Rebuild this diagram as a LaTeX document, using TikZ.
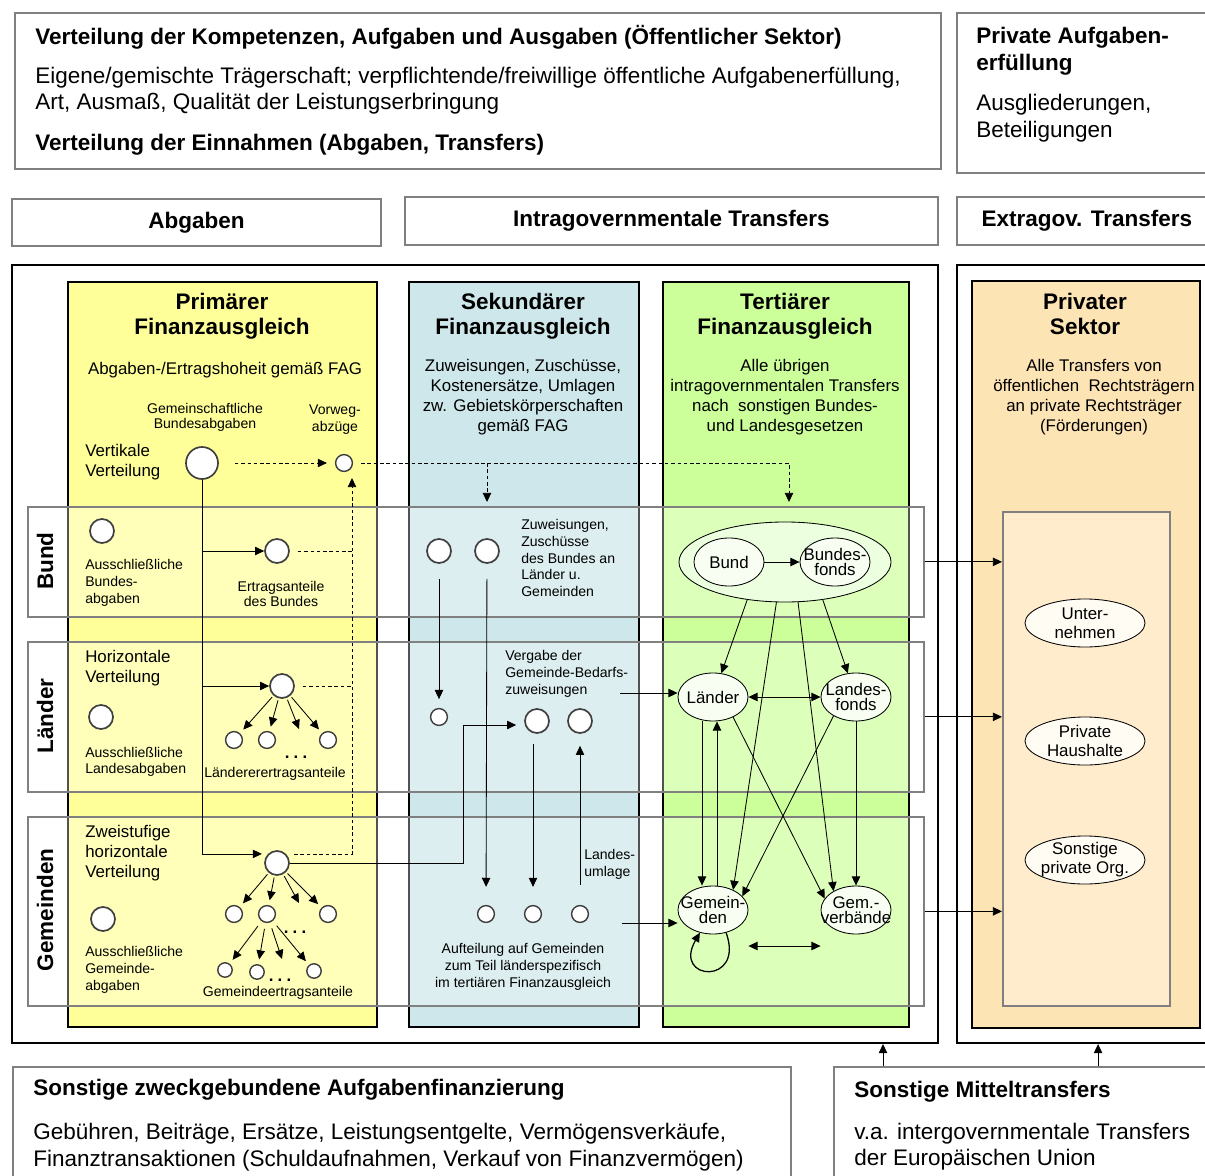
\documentclass[tikz,border=0pt]{standalone}
\usepackage{fontspec}
\setmainfont{Liberation Sans}
\usetikzlibrary{arrows.meta, shapes.geometric, positioning, calc}
\definecolor{primfill}{RGB}{255,255,153}
\definecolor{sekfill}{RGB}{206,231,234}
\definecolor{tertfill}{RGB}{204,255,153}
\definecolor{privfill}{RGB}{253,228,181}
\definecolor{privinnerfill}{RGB}{255,236,204}
\definecolor{framegray}{RGB}{128,128,128}
\definecolor{circgray}{RGB}{64,64,64}
\definecolor{groupfill}{RGB}{236,255,222}
\definecolor{ellfill}{RGB}{248,255,242}
\definecolor{privellfill}{RGB}{255,252,243}
\newcommand{\fbig}{\fontsize{16}{18.5}\selectfont}
\newcommand{\fhead}{\fontsize{16}{17.8}\selectfont\bfseries}
\newcommand{\fmed}{\fontsize{12}{14.2}\selectfont}
\newcommand{\fsmall}{\fontsize{10}{12}\selectfont}
\tikzset{
    outerframe/.style={
        draw=black,
        line width=1.3pt,
        fill=white,
        anchor=north west,
        inner sep=0pt
    },
    graybox/.style={
        draw=framegray,
        line width=1.2pt,
        fill=white,
        anchor=north west,
        inner sep=0pt
    },
    headbox/.style={
        graybox,
        font=\fhead
    },
    colbox/.style={
        draw=black,
        line width=1.2pt,
        anchor=north west,
        inner sep=0pt
    },
    band/.style={
        draw=framegray,
        line width=1.2pt,
        fill=white,
        fill opacity=0.32,
        anchor=north west,
        inner sep=0pt
    },
    bandlabel/.style={
        rotate=90,
        inner sep=0pt,
        font=\fontsize{16}{18}\selectfont\bfseries
    },
    boxtext/.style={
        inner sep=0pt,
        anchor=west,
        align=left,
        font=\fbig
    },
    coltitle/.style={
        inner sep=0pt,
        align=center,
        font=\fhead
    },
    coldesc/.style={
        inner sep=0pt,
        align=center,
        font=\fmed
    },
    medtext/.style={
        inner sep=0pt,
        anchor=west,
        align=left,
        font=\fmed
    },
    smalltext/.style={
        inner sep=0pt,
        align=left,
        font=\fsmall
    },
    dotstext/.style={
        inner sep=0pt,
        font=\fontsize{12}{12}\selectfont\bfseries
    },
    circbig/.style={circle, draw=circgray, line width=1.2pt, fill=white, minimum size=0.8cm, inner sep=0pt},
    circmid/.style={circle, draw=circgray, line width=1.2pt, fill=white, minimum size=0.6cm, inner sep=0pt},
    circsmall/.style={circle, draw=circgray, line width=1pt, fill=white, minimum size=0.42cm, inner sep=0pt},
    circtiny/.style={circle, draw=circgray, line width=1pt, fill=white, minimum size=0.36cm, inner sep=0pt},
    elltxt/.style={
        inner sep=0pt,
        align=center,
        font=\fontsize{12}{10.7}\selectfont
    },
    ellnode/.style={
        ellipse,
        draw=black,
        line width=0.6pt,
        fill=ellfill,
        minimum width=1.75cm,
        minimum height=1.2cm,
        inner sep=0pt,
        label={[elltxt]center:#1}
    },
    privell/.style={
        ellipse,
        draw=black,
        line width=0.6pt,
        fill=privellfill,
        minimum width=3cm,
        minimum height=1.2cm,
        inner sep=0pt,
        label={[elltxt, font=\fontsize{12}{13.5}\selectfont]center:#1}
    },
    arr/.style={
        draw=black,
        line width=0.6pt,
        -{Triangle[length=6.5pt,width=6pt]}
    },
    darr/.style={
        draw=black,
        line width=0.6pt,
        {Triangle[length=6.5pt,width=6pt]}-{Triangle[length=6.5pt,width=6pt]}
    },
    dashline/.style={
        draw=black,
        line width=0.6pt,
        dash pattern=on 2.5pt off 2pt
    },
    dasharr/.style={
        dashline,
        -{Triangle[length=6.5pt,width=6pt]}
    }
}
\begin{document}
\begin{tikzpicture}[x=0.025cm, y=-0.025cm]
\useasboundingbox (0,0) rectangle (1205,1176);

% Top boxes
\node[graybox, minimum width=23.15cm, minimum height=3.9cm] (pubtask) at (14,12) {};
\node[boxtext, font=\fbig\bfseries] (pubtitle) at (35,37) {Verteilung der Kompetenzen, Aufgaben und Ausgaben (Öffentlicher Sektor)};
\node[boxtext] (pubdesc) at (35,91) {Eigene/gemischte Trägerschaft; verpflichtende/freiwillige öffentliche Aufgabenerfüllung,\\Art, Ausmaß, Qualität der Leistungserbringung};
\node[boxtext, font=\fbig\bfseries] (pubincome) at (35,145) {Verteilung der Einnahmen (Abgaben, Transfers)};
\node[graybox, minimum width=6.5cm, minimum height=4cm] (privtask) at (956,12) {};
\node[boxtext, font=\fontsize{16}{19.2}\selectfont\bfseries] (privtitle) at (976,51) {Private Aufgaben-\\erfüllung};
\node[boxtext, font=\fontsize{16}{19.2}\selectfont] (privdesc) at (976,118) {Ausgliederungen,\\Beteiligungen};

% Header row
\node[headbox, minimum width=9.225cm, minimum height=1.175cm] (hdabg) at (11,198) {Abgaben};
\node[headbox, minimum width=13.325cm, minimum height=1.2cm] (hdintra) at (404,196) {Intragovernmentale Transfers};
\node[headbox, minimum width=6.5cm, minimum height=1.2cm] (hdextra) at (956,196) {Extragov. Transfers};

% Frames and columns
\node[outerframe, minimum width=23.15cm, minimum height=19.45cm] (pubframe) at (11,264) {};
\node[outerframe, minimum width=6.5cm, minimum height=19.45cm] (privframe) at (956,264) {};
\node[colbox, fill=primfill, minimum width=7.725cm, minimum height=18.625cm] (colprim) at (67,281) {};
\node[colbox, fill=sekfill, minimum width=5.75cm, minimum height=18.625cm] (colsek) at (408,281) {};
\node[colbox, fill=tertfill, minimum width=6.15cm, minimum height=18.625cm] (colter) at (662,281) {};
\node[colbox, fill=privfill, minimum width=5.7cm, minimum height=18.675cm] (colpriv) at (971,280) {};
\node[graybox, fill=privinnerfill, minimum width=4.175cm, minimum height=12.35cm] (privinner) at (1002,511) {};

% Level bands
\node[band, minimum width=22.4cm, minimum height=2.75cm] (bandbund) at (27,506) {};
\node[band, minimum width=22.4cm, minimum height=3.75cm] (bandland) at (27,641) {};
\node[band, minimum width=22.4cm, minimum height=4.725cm] (bandgem) at (27,816) {};
\node[bandlabel] (lblbund) at (45,561) {Bund};
\node[bandlabel] (lblland) at (45,716) {Länder};
\node[bandlabel] (lblgem) at (45,910) {Gemeinden};

% Column titles
\node[coltitle] (tprim) at (222,316) {Primärer\\Finanzausgleich};
\node[coltitle] (tsek) at (523,316) {Sekundärer\\Finanzausgleich};
\node[coltitle] (tter) at (785,316) {Tertiärer\\Finanzausgleich};
\node[coltitle] (tpriv) at (1085,314) {Privater\\Sektor};
\node[coldesc] (dprim) at (225,370) {Abgaben-/Ertragshoheit gemäß FAG};
\node[coldesc] (dsek) at (523,397) {Zuweisungen, Zuschüsse,\\Kostenersätze, Umlagen\\zw. Gebietskörperschaften\\gemäß FAG};
\node[coldesc] (dter) at (785,397) {Alle übrigen\\intragovernmentalen Transfers\\nach\ \ sonstigen Bundes-\\und Landesgesetzen};
\node[coldesc] (dpriv) at (1094,397) {Alle Transfers von\\öffentlichen\ \ Rechtsträgern\\an private Rechtsträger\\(Förderungen)};

% Primary: vertical distribution
\node[smalltext, align=center, font=\fontsize{10}{10.7}\selectfont] (lgba) at (205,417) {Gemeinschaftliche\\Bundesabgaben};
\node[smalltext, align=center] (lvwa) at (335,420) {Vorweg-\\abzüge};
\node[medtext] (lvert) at (85,462) {Vertikale\\Verteilung};
\node[circbig] (gba) at (202,463) {};
\node[circsmall] (vwa) at (344,463) {};
\coordinate (vwain) at (352,478);
\coordinate (sdrop) at (487,502);
\coordinate (tdrop) at (789,502);

% Primary: Bund
\node[circmid] (exbund) at (102,531) {};
\node[smalltext, anchor=west] (lexbund) at (85,583) {Ausschließliche\\Bundes-\\abgaben};
\node[circmid] (ertbund) at (277,551) {};
\node[smalltext, align=center, font=\fontsize{10}{8.8}\selectfont] (lertbund) at (281,594) {Ertragsanteile\\des Bundes};

% Primary: Laender
\node[medtext] (lhor) at (85,668) {Horizontale\\Verteilung};
\node[circmid] (exland) at (101,717) {};
\node[smalltext, anchor=west, font=\fontsize{10}{11.5}\selectfont] (lexland) at (85,762) {Ausschließliche\\Landesabgaben};
\node[circmid] (ertland) at (282,686) {};
\node[circsmall] (land1) at (234,740) {};
\node[circsmall] (land2) at (267,740) {};
\node[circsmall] (land3) at (328,740) {};
\node[dotstext] (landdots) at (296,757) {.\hspace{3pt}.\hspace{3pt}.};
\coordinate (landgap) at (299,729);
\node[smalltext, align=center] (lertland) at (275,774) {Ländererertragsanteile};

% Primary: Gemeinden
\node[medtext] (lzwei) at (85,853) {Zweistufige\\horizontale\\Verteilung};
\node[circmid] (exgem) at (103,919) {};
\node[smalltext, anchor=west] (lexgem) at (85,970) {Ausschließliche\\Gemeinde-\\abgaben};
\node[circmid] (ertgem) at (277,863) {};
\node[circsmall] (gem1) at (234,914) {};
\node[circsmall] (gem2) at (267,914) {};
\node[circsmall] (gem3) at (328,914) {};
\node[dotstext] (gemdots) at (295,932) {.\hspace{3pt}.\hspace{3pt}.};
\coordinate (gemgap) at (299,903);
\node[circtiny] (gem21) at (225,970) {};
\node[circtiny] (gem22) at (257,972) {};
\node[circtiny] (gem23) at (314,971) {};
\node[dotstext] (gem2dots) at (280,980) {.\hspace{3pt}.\hspace{3pt}.};
\coordinate (gem2gap) at (282,959);
\node[smalltext, align=center] (lertgem) at (278,993) {Gemeindeertragsanteile};

% Primary connections
\draw[dasharr, shorten <=0.4cm, shorten >=0.2cm] (gba) -- (vwa);
\draw[dasharr, shorten <=0.2cm] (vwa.east) -| (tdrop);
\draw[dasharr] (vwa.east -| sdrop) -- (sdrop);
\draw[dashline, shorten <=0.2cm] (ertbund.east) -- (ertbund.east -| vwain);
\draw[dashline, shorten <=0.2cm] (ertland.east) -- (ertland.east -| vwain);
\draw[dasharr, shorten <=0.2cm] (ertgem.north east) -| (vwain);
\draw[arr] (gba.south) |- (ertbund.west);
\draw[arr] (gba.south) |- (ertland.west);
\draw[arr, shorten >=0.15cm] (gba.south) |- (ertgem.north west);
\foreach \kid in {land1, land2, land3} {
    \draw[arr, shorten <=0.05cm, shorten >=0.12cm] (ertland) -- (\kid);
}
\draw[arr, shorten <=0.05cm] (ertland) -- (landgap);
\foreach \kid in {gem1, gem2, gem3} {
    \draw[arr, shorten <=0.05cm, shorten >=0.12cm] (ertgem) -- (\kid);
}
\draw[arr, shorten <=0.05cm] (ertgem) -- (gemgap);
\foreach \kid in {gem21, gem22, gem23} {
    \draw[arr, shorten <=0.15cm, shorten >=0.12cm] (gem2) -- (\kid);
}
\draw[arr, shorten <=0.15cm] (gem2) -- (gem2gap);

% Secondary
\node[circmid] (sek1) at (439,551) {};
\node[circmid] (sek2) at (487,551) {};
\node[smalltext, anchor=west, font=\fontsize{10}{11.9}\selectfont] (lzuw) at (521,558) {Zuweisungen,\\Zuschüsse\\des Bundes an\\Länder u.\\Gemeinden};
\node[circsmall] (sek3) at (439,717) {};
\node[smalltext, anchor=west] (lverg) at (505,674) {Vergabe der\\Gemeinde-Bedarfs-\\zuweisungen};
\coordinate (vgstart) at (620,693);
\node[circmid] (sek4) at (537,721) {};
\node[circmid] (sek5) at (580,721) {};
\node[circsmall] (sek7) at (486,914) {};
\node[circsmall] (sek8) at (533,914) {};
\node[circsmall] (sek9) at (580,914) {};
\node[smalltext, anchor=west] (lumlage) at (584,864) {Landes-\\umlage};
\coordinate (afstart) at (622,923);
\coordinate (bend) at (463,725);
\node[smalltext, align=center] (lauft) at (523,967) {Aufteilung auf Gemeinden\\zum Teil länderspezifisch\\im tertiären Finanzausgleich};
\draw[arr, shorten <=0.375cm, shorten >=0.22cm] (sek1) -- (sek3);
\draw[arr, shorten <=0.375cm, shorten >=0.45cm] (sek2) -- (sek7);
\draw[arr, shorten <=0.25cm, shorten >=0.45cm] (sek4.south -| sek8) -- (sek8);
\draw[arr, shorten <=0.5cm, shorten >=0.3cm] (sek9) -- (sek5);
\draw[arr, shorten >=0.2cm] (ertgem.east) -| (bend) -- (bend -| sek4.west);

% Tertiary
\node[ellnode=, fill=groupfill, minimum width=5.3cm, minimum height=2cm] (bundgrp) at (785,562) {};
\node[ellnode=Bund] (tbund) at (729,562) {};
\node[ellnode={Bundes-\\fonds}] (tbfonds) at (835,562) {};
\node[ellnode=Länder] (laender) at (713,697) {};
\node[ellnode={Landes-\\fonds}] (lfonds) at (856,697) {};
\node[ellnode={Gemein-\\den}] (gemeinden) at (713,910) {};
\node[ellnode={Gem.-\\verbände}] (gemverb) at (856,910) {};
\draw[arr] (tbund) -- (tbfonds);
\draw[arr] (bundgrp.225.8) -- (laender);
\draw[arr] (bundgrp.258.4) -- (gemeinden.45);
\draw[arr] (bundgrp.288.4) -- (gemverb.140);
\draw[arr] (bundgrp.315) -- (lfonds);
\draw[darr] (laender) -- (lfonds);
\draw[arr] ([xshift=-0.275cm]laender.south) -- ([xshift=-0.275cm]gemeinden.north);
\draw[arr] ([xshift=0.1cm]gemeinden.north) -- ([xshift=0.1cm]laender.south);
\draw[arr] (laender.-45) -- (gemverb.160);
\draw[arr] (lfonds.220) -- (gemeinden.25);
\draw[arr] (lfonds.south) -- (gemverb.north);
\draw[arr, line width=0.9pt] (gemeinden.-60) to[out=-70, in=-120, looseness=5.5] (gemeinden.-120);
\draw[darr] ([yshift=-0.9cm]gemeinden.east) -- ([yshift=-0.9cm]gemverb.west);
\draw[arr] (vgstart) -- (vgstart -| laender.west);
\draw[arr] (afstart) -- (afstart -| gemeinden.west);

% Private sector
\node[privell={Unter-\\nehmen}] (priv1) at (1085,623) {};
\node[privell={Private\\Haushalte}] (priv2) at (1085,741) {};
\node[privell={Sonstige\\private Org.}] (priv3) at (1085,860) {};
\draw[arr] (bandbund.east) -- (bandbund.east -| privinner.west);
\draw[arr] (bandland.east) -- (bandland.east -| privinner.west);
\draw[arr] (bandgem.east) -- (bandgem.east -| privinner.west);

% Bottom boxes
\node[graybox, minimum width=19.45cm, minimum height=3.25cm] (otherfin) at (12,1066) {};
\node[boxtext, font=\fbig\bfseries] (ofintitle) at (33,1090) {Sonstige zweckgebundene Aufgabenfinanzierung};
\node[boxtext, font=\fontsize{16}{19.2}\selectfont] (ofindesc) at (33,1147) {Gebühren, Beiträge, Ersätze, Leistungsentgelte, Vermögensverkäufe,\\Finanztransaktionen (Schuldaufnahmen, Verkauf von Finanzvermögen)};
\node[graybox, minimum width=9.75cm, minimum height=3.25cm] (othertr) at (833,1066) {};
\node[boxtext, font=\fbig\bfseries] (otrtitle) at (854,1092) {Sonstige Mitteltransfers};
\node[boxtext, font=\fontsize{16}{18.5}\selectfont] (otrdesc) at (854,1147) {v.a. intergovernmentale Transfers\\der Europäischen Union};
\draw[arr] ([xshift=1.25cm]othertr.north west) -- ([xshift=1.25cm]othertr.north west |- pubframe.south);
\draw[arr] ([xshift=6.625cm]othertr.north west) -- ([xshift=6.625cm]othertr.north west |- privframe.south);

\end{tikzpicture}
\end{document}
